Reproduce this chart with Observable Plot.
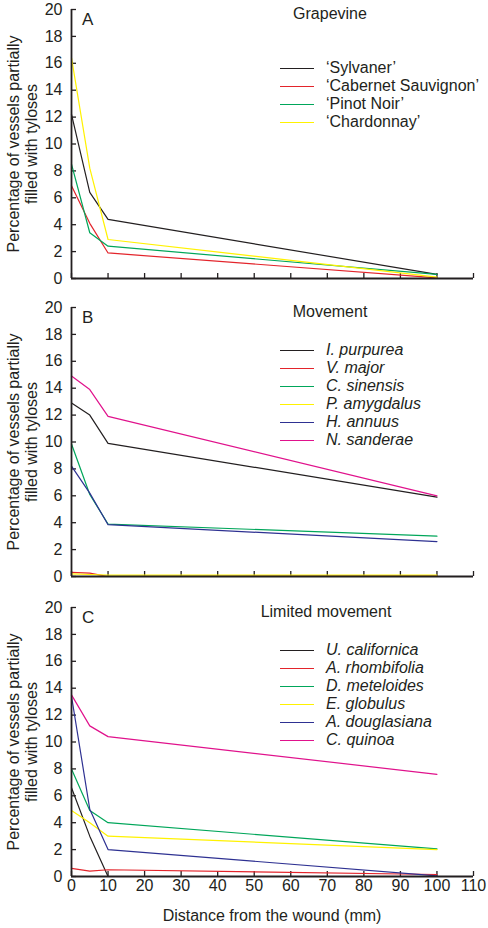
<!DOCTYPE html>
<html><head><meta charset="utf-8">
<script src="https://cdn.jsdelivr.net/npm/d3@7"></script>
<script src="https://cdn.jsdelivr.net/npm/@observablehq/plot@0.6"></script>
<style>
body{margin:0;background:#fff;font-family:"Liberation Sans",Arial,sans-serif;}
#wrap{position:relative;width:488px;height:928px;}
.panel{position:absolute;left:0;}
.ov{position:absolute;font-size:16px;color:#231f20;white-space:nowrap;line-height:1;}
.lg{position:absolute;font-size:16px;color:#231f20;white-space:nowrap;line-height:1;}
.lg span.sw{position:absolute;left:0;top:8px;width:34px;height:0;border-top:1.3px solid;}
.lg span.tx{position:absolute;left:46px;top:0;}
.ylab{position:absolute;font-size:16px;color:#231f20;text-align:center;line-height:18px;transform:rotate(-90deg);transform-origin:center;white-space:nowrap;}
</style></head><body>
<div id="wrap"></div>
<script>
const distances = [0, 5, 10, 100];
const xTicks = [0,10,20,30,40,50,60,70,80,90,100,110];
const yTicks = [0,2,4,6,8,10,12,14,16,18,20];

const grapeNames = ["‘Sylvaner’","‘Cabernet Sauvignon’","‘Pinot Noir’","‘Chardonnay’"];
const grapeColors = ["#231f20","#e3242b","#00a65a","#fff200"];
const grapeValues = [
  [12.2, 6.4, 4.4, 0.3],
  [6.9, 4.1, 1.9, 0.05],
  [8.5, 3.4, 2.4, 0.3],
  [16.4, 8.2, 2.9, 0.1]
];

const moveNames = ["I. purpurea","V. major","C. sinensis","P. amygdalus","H. annuus","N. sanderae"];
const moveColors = ["#231f20","#e3242b","#00a65a","#fff200","#2e3192","#e0128c"];
const moveValues = [
  [12.9, 12.0, 9.9, 5.9],
  [0.3, 0.25, 0.0, 0.05],
  [9.85, 6.1, 3.9, 3.0],
  [0.2, 0.15, 0.1, 0.1],
  [8.2, 6.2, 3.85, 2.6],
  [14.9, 13.9, 11.9, 6.0]
];

const limNames = ["U. californica","A. rhombifolia","D. meteloides","E. globulus","A. douglasiana","C. quinoa"];
const limColors = ["#231f20","#e3242b","#00a65a","#fff200","#2e3192","#e0128c"];
const limValues = [
  [6.6, 3.0, 0.0, 0.0],
  [0.6, 0.4, 0.5, 0.15],
  [8.0, 4.9, 4.0, 2.05],
  [4.9, 4.0, 3.0, 2.0],
  [13.4, 5.0, 2.0, 0.05],
  [13.5, 11.2, 10.4, 7.6]
];

const panels = [
  {letter:"A", title:"Grapevine", names:grapeNames, colors:grapeColors, values:grapeValues, italic:false, top:0, titleX:330, legendTop:60},
  {letter:"B", title:"Movement", names:moveNames, colors:moveColors, values:moveValues, italic:true, top:300, titleX:330, legendTop:342},
  {letter:"C", title:"Limited movement", names:limNames, colors:limColors, values:limValues, italic:true, top:600, titleX:326, legendTop:642}
];

const wrap = document.getElementById("wrap");
const font = '"Liberation Sans",Arial,sans-serif';

panels.forEach((p, pi) => {
  const last = pi === panels.length - 1;
  const rows = [];
  p.names.forEach((n, i) => distances.forEach((d, j) => rows.push({series:n, d, v:p.values[i][j]})));
  const mt = pi === 0 ? 9 : 7;
  const height = last ? 328 : 300;
  const mb = height - mt - 269;
  const chart = Plot.plot({
    width: 488, height,
    marginLeft: 71, marginRight: 15, marginTop: mt, marginBottom: mb,
    style: {fontFamily: font, fontSize: "16px", color: "#231f20", background: "transparent"},
    x: {domain: [0, 110], ticks: xTicks},
    y: {domain: [0, 20], ticks: yTicks},
    color: {domain: p.names, range: p.colors},
    marks: [
      Plot.axisY({ticks: yTicks, tickSize: -5, tickPadding: 14, label: null, stroke:"#231f20", strokeWidth:1.3, fontSize: 16}),
      last
        ? Plot.axisX({ticks: xTicks, tickSize: -5, tickPadding: 8, label: null, stroke:"#231f20", strokeWidth:1.3, fontSize: 16})
        : Plot.axisX({ticks: xTicks, tickSize: -5, tickFormat: () => "", label: null, stroke:"#231f20", strokeWidth:1.3}),
      Plot.line(rows, {x: "d", y: "v", z: "series", stroke: "series", strokeWidth: 1.2}),
      Plot.ruleX([0], {stroke:"#231f20", strokeWidth:1.8}),
      Plot.ruleY([0], {stroke:"#231f20", strokeWidth:1.8})
    ]
  });
  chart.classList.add("panel");
  chart.style.top = p.top + "px";
  wrap.appendChild(chart);

  const L = document.createElement("div");
  L.className = "ov"; L.textContent = p.letter;
  L.style.left = "82px"; L.style.top = (p.top + mt + 2) + "px"; L.style.fontSize = "17px";
  wrap.appendChild(L);

  const T = document.createElement("div");
  T.className = "ov"; T.textContent = p.title;
  T.style.left = p.titleX + "px"; T.style.top = (p.top + mt - 3) + "px"; T.style.transform = "translateX(-50%)";
  wrap.appendChild(T);

  p.names.forEach((n, i) => {
    const g = document.createElement("div");
    g.className = "lg";
    g.style.left = "280px"; g.style.top = (p.legendTop + i * 18) + "px";
    g.innerHTML = `<span class="sw" style="border-color:${p.colors[i]}"></span><span class="tx" style="font-style:${p.italic ? 'italic' : 'normal'}">${n}</span>`;
    wrap.appendChild(g);
  });

  const Y = document.createElement("div");
  Y.className = "ylab";
  Y.innerHTML = "Percentage of vessels partially<br>filled with tyloses";
  Y.style.width = "280px"; Y.style.height = "36px";
  const cy = p.top + mt + 135;
  Y.style.left = (23 - 140) + "px"; Y.style.top = (cy - 18) + "px";
  wrap.appendChild(Y);
});

const X = document.createElement("div");
X.className = "ov"; X.textContent = "Distance from the wound (mm)";
X.style.left = "272px"; X.style.top = "908px"; X.style.transform = "translateX(-50%)";
wrap.appendChild(X);
</script>
</body></html>
